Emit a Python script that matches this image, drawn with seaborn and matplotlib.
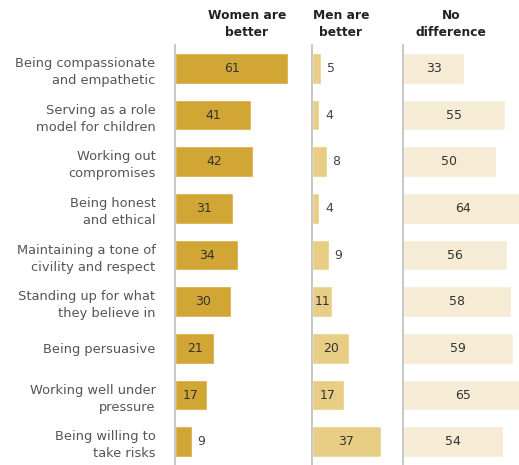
import matplotlib
matplotlib.use("Agg")
import matplotlib.pyplot as plt
import seaborn as sns
import pandas as pd

categories = [
    "Being compassionate\nand empathetic",
    "Serving as a role\nmodel for children",
    "Working out\ncompromises",
    "Being honest\nand ethical",
    "Maintaining a tone of\ncivility and respect",
    "Standing up for what\nthey believe in",
    "Being persuasive",
    "Working well under\npressure",
    "Being willing to\ntake risks",
]
women_better = [61, 41, 42, 31, 34, 30, 21, 17, 9]
men_better = [5, 4, 8, 4, 9, 11, 20, 17, 37]
no_difference = [33, 55, 50, 64, 56, 58, 59, 65, 54]
headers = ["Women are\nbetter", "Men are\nbetter", "No\ndifference"]
colors = ["#D1A634", "#E8CE85", "#F6ECD6"]

sns.set_theme(style="white")
plt.rcParams["font.family"] = ["DejaVu Sans"]

W, H = 519, 465
fig = plt.figure(figsize=(W / 100, H / 100), dpi=100)

px_per_unit = 1.86
panels = [(175, 125), (312, 85), (403, 116)]
header_x = [247, 341, 451]
top, bottom = 45, 465

series = [women_better, men_better, no_difference]
for i, ((left, width), vals) in enumerate(zip(panels, series)):
    ax = fig.add_axes([left / W, (H - bottom) / H, width / W, (bottom - top) / H])
    df = pd.DataFrame({"cat": categories, "val": vals})
    sns.barplot(data=df, x="val", y="cat", orient="h", color=colors[i],
                width=0.66, saturation=1, ax=ax)
    ax.set_xlim(0, width / px_per_unit)
    ax.set_ylim(len(categories) - 0.5, -0.5)
    ax.set_xlabel("")
    ax.set_ylabel("")
    ax.set_xticks([])
    for s in ["top", "right", "bottom"]:
        ax.spines[s].set_visible(False)
    ax.spines["left"].set_color("#BDBDBD")
    ax.spines["left"].set_linewidth(1.2)
    if i == 0:
        ax.tick_params(axis="y", length=0, pad=14, labelsize=9.4, labelcolor="#555555")
        for lab in ax.get_yticklabels():
            lab.set_ha("right")
            lab.set_linespacing(1.4)
    else:
        ax.set_yticks([])
    for j, v in enumerate(vals):
        if v >= 10:
            ax.text(v / 2, j, str(v), ha="center", va="center", fontsize=9, color="#333333")
        else:
            ax.annotate(str(v), (v, j), xytext=(4, 0), textcoords="offset points",
                        ha="left", va="center", fontsize=9, color="#444444")
    fig.text(header_x[i] / W, 1 - 24 / H, headers[i], ha="center", va="center",
             fontsize=8.8, fontweight="bold", color="#222222", linespacing=1.35)

fig.savefig("out.png", dpi=100)
